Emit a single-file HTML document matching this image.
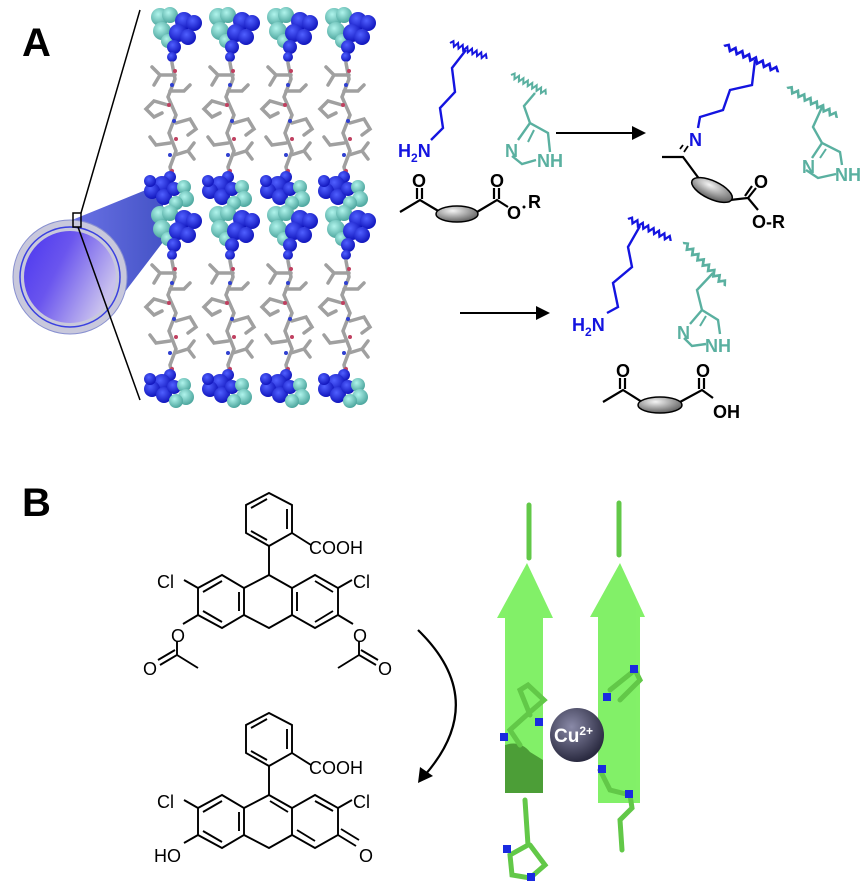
<!DOCTYPE html>
<html><head><meta charset="utf-8"><style>
html,body{margin:0;padding:0;background:#fff;}
svg{display:block;font-family:"Liberation Sans",Arial,sans-serif;}
</style></head><body>
<svg width="866" height="896" viewBox="0 0 866 896" xmlns="http://www.w3.org/2000/svg">
<defs>
<radialGradient id="blob" cx="40%" cy="35%" r="70%"><stop offset="0" stop-color="#5060ff"/><stop offset="1" stop-color="#0c10b8"/></radialGradient>
<radialGradient id="cyan" cx="40%" cy="35%" r="70%"><stop offset="0" stop-color="#b0f4ec"/><stop offset="1" stop-color="#45a098"/></radialGradient>
<linearGradient id="cyl" x1="0" y1="0" x2="1" y2="0.5"><stop offset="0" stop-color="#4a35f0"/><stop offset="0.45" stop-color="#6a55ee"/><stop offset="1" stop-color="#c8c0ee"/></linearGradient>
<linearGradient id="beam" x1="0" y1="0" x2="1" y2="0"><stop offset="0" stop-color="#6a70f0"/><stop offset="1" stop-color="#3040c0"/></linearGradient>
<radialGradient id="ell" cx="40%" cy="30%" r="70%"><stop offset="0" stop-color="#f4f4f4"/><stop offset="1" stop-color="#606060"/></radialGradient>
<radialGradient id="cu" cx="40%" cy="35%" r="65%"><stop offset="0" stop-color="#8a8aa8"/><stop offset="1" stop-color="#2a2a40"/></radialGradient>
<g id="col">
  <g fill="url(#cyan)"><circle cx="-12" cy="12" r="9"/><circle cx="-2" cy="10" r="8"/><circle cx="-10" cy="26" r="9"/><circle cx="-4" cy="36" r="7"/></g>
  <g fill="url(#blob)"><circle cx="12" cy="16" r="9"/><circle cx="22" cy="18" r="8"/><circle cx="6" cy="28" r="9"/><circle cx="16" cy="32" r="8"/><circle cx="2" cy="42" r="7"/><circle cx="0" cy="52" r="5"/></g>
  <g stroke="#a0a0a0" stroke-width="3.5" fill="none" stroke-linecap="round">
    <path d="M0,58 L3,74 L-4,92 L4,110 L-3,128 L4,146 L-2,162 L0,170"/>
    <path d="M3,70 L-12,70 L-20,62 M-12,70 L-18,80"/>
    <path d="M-2,86 L12,86 L18,80"/>
    <path d="M-4,100 L-18,96 L-26,104 L-18,112 L-10,108"/>
    <path d="M4,118 L18,114 L24,124 L16,130"/>
    <path d="M-2,138 L-16,140 L-22,132"/>
    <path d="M3,150 L16,146 L22,154 M16,146 L22,138"/>
  </g>
  <g fill="#c04060"><circle cx="3" cy="66" r="2"/><circle cx="-3" cy="100" r="2"/><circle cx="4" cy="134" r="2"/><circle cx="0" cy="166" r="2"/></g>
  <g fill="#3040d0"><circle cx="0" cy="80" r="2"/><circle cx="2" cy="116" r="2"/><circle cx="-2" cy="150" r="2"/></g>
  <g fill="url(#blob)"><circle cx="-2" cy="172" r="6"/><circle cx="-10" cy="180" r="9"/><circle cx="-20" cy="186" r="8"/><circle cx="-8" cy="192" r="8"/><circle cx="2" cy="184" r="7"/><circle cx="-22" cy="176" r="6"/></g>
  <g fill="url(#cyan)"><circle cx="12" cy="182" r="7"/><circle cx="14" cy="194" r="8"/><circle cx="4" cy="198" r="7"/></g>
</g>
<g id="wavy"><polyline fill="none" stroke-width="2" points="0,0 2.5,-3 5,2 7.5,-3 10,2 12.5,-3 15,2 17.5,-3 20,2 22.5,-3 25,2 27.5,-3 30,2 32.5,-3 35,2 37.5,-3 40,1"/></g>
</defs>

<!-- Panel A -->
<text x="22" y="56" font-size="40" font-weight="bold">A</text>
<polygon points="35,235 163,183 163,242 105,318" fill="url(#beam)" opacity="0.9"/>
<circle cx="70" cy="277" r="57" fill="#c8c8dc" stroke="#8890d0" stroke-width="1"/>
<circle cx="70" cy="277" r="50" fill="none" stroke="#3a40e0" stroke-width="1.5"/>
<circle cx="70" cy="277" r="46" fill="url(#cyl)"/>
<rect x="73" y="213" width="8" height="14" fill="none" stroke="#000" stroke-width="1.5"/>
<line x1="81" y1="213" x2="140" y2="10" stroke="#000" stroke-width="1.5"/>
<line x1="78" y1="227" x2="140" y2="400" stroke="#000" stroke-width="1.5"/>

<use href="#col" x="172" y="5"/><use href="#col" x="230" y="5"/><use href="#col" x="288" y="5"/><use href="#col" x="346" y="5"/>
<use href="#col" x="172" y="203"/><use href="#col" x="230" y="203"/><use href="#col" x="288" y="203"/><use href="#col" x="346" y="203"/>

<g font-size="18" font-weight="bold">
<!-- reaction 1 reactants -->
<g stroke="#1414e0"><use href="#wavy" transform="translate(450,43) rotate(22)"/></g>
<path d="M466,50 L452,68 L455,92 L440,108 L443,128 L431,140" fill="none" stroke="#1414e0" stroke-width="2.4"/>
<text x="398" y="157" fill="#1414e0">H<tspan font-size="12" dy="5">2</tspan><tspan dy="-5">N</tspan></text>
<g stroke="#5ab0a0"><use href="#wavy" transform="translate(511,75) rotate(28)"/></g>
<g fill="none" stroke="#5ab0a0" stroke-width="2.4">
<path d="M535,93 L524,106 L530,123 L548,133 L550,152"/>
<path d="M530,123 L518,140"/><path d="M534,130 L528,142" stroke-width="2"/>
<path d="M512,156 L522,164 L536,160"/>
</g>
<text x="505" y="157" fill="#5ab0a0">N</text>
<text x="537" y="167" fill="#5ab0a0">NH</text>
<g stroke="#000" stroke-width="2.2" fill="none">
<path d="M400,212 L420,200 L440,212"/><path d="M417,199 L417,188 M422,199 L422,188"/>
<path d="M477,212 L497,200 L508,207"/><path d="M494,199 L494,188 M499,199 L499,188"/>
</g>
<ellipse cx="457" cy="214" rx="21" ry="8" fill="url(#ell)" stroke="#000" stroke-width="1.5"/>
<text x="412" y="187">O</text><text x="490" y="187">O</text>
<text x="507" y="219">O</text><circle cx="524" cy="207" r="1.5"/><text x="528" y="208">R</text>

<!-- arrow 1 -->
<line x1="556" y1="133" x2="633" y2="133" stroke="#000" stroke-width="2"/>
<polygon points="646,133 632,126 632,140" fill="#000"/>

<!-- product 1 -->
<g stroke="#1414e0"><use href="#wavy" transform="translate(724,46) rotate(25) scale(1.5,1)"/></g>
<path d="M755,60 L752,85 L730,90 L723,110 L700,117 L698,128" fill="none" stroke="#1414e0" stroke-width="2.4"/>
<text x="689" y="146" fill="#1414e0">N</text>
<g stroke="#000" stroke-width="2.2" fill="none">
<path d="M662,157 L683,157 L700,180"/><path d="M684,152 L688,146 M680,149 L683,145" stroke-width="1.8"/>
<path d="M730,200 L748,198 L756,188 M745,196 L752,186"/><path d="M748,198 L758,210"/>
</g>
<ellipse cx="712" cy="190" rx="22" ry="9" transform="rotate(25 712 190)" fill="url(#ell)" stroke="#000" stroke-width="1.5"/>
<text x="754" y="188">O</text><text x="752" y="228">O-R</text>
<g stroke="#5ab0a0"><use href="#wavy" transform="translate(787,88) rotate(30) scale(1.45,1)"/></g>
<g fill="none" stroke="#5ab0a0" stroke-width="2.4">
<path d="M823,105 L813,127 L822,143 L840,152 L842,165"/>
<path d="M822,143 L812,158"/><path d="M826,149 L820,158" stroke-width="2"/>
<path d="M806,170 L818,178 L836,174"/>
</g>
<text x="802" y="173" fill="#5ab0a0">N</text>
<text x="835" y="181" fill="#5ab0a0">NH</text>

<!-- arrow 2 -->
<line x1="460" y1="313" x2="537" y2="313" stroke="#000" stroke-width="2"/>
<polygon points="550,313 536,306 536,320" fill="#000"/>

<!-- product 2 -->
<g stroke="#1414e0"><use href="#wavy" transform="translate(628,219) rotate(26) scale(1.2,1)"/></g>
<path d="M640,226 L628,247 L632,267 L613,283 L618,307 L607,313" fill="none" stroke="#1414e0" stroke-width="2.4"/>
<text x="572" y="331" fill="#1414e0">H<tspan font-size="12" dy="5">2</tspan><tspan dy="-5">N</tspan></text>
<g stroke="#5ab0a0"><use href="#wavy" transform="translate(683,243) rotate(45) scale(1.5,1)"/></g>
<g fill="none" stroke="#5ab0a0" stroke-width="2.4">
<path d="M713,273 L697,290 L702,310 L718,320 L720,334"/>
<path d="M702,310 L690,324"/><path d="M706,316 L700,326" stroke-width="2"/>
<path d="M684,338 L692,346 L706,344"/>
</g>
<text x="677" y="339" fill="#5ab0a0">N</text>
<text x="705" y="352" fill="#5ab0a0">NH</text>
<g stroke="#000" stroke-width="2.2" fill="none">
<path d="M603,402 L623,390 L642,402"/><path d="M620,389 L620,378 M625,389 L625,378"/>
<path d="M680,402 L702,390 L713,398"/><path d="M699,389 L699,378 M704,389 L704,378"/>
</g>
<ellipse cx="660" cy="405" rx="22" ry="8" fill="url(#ell)" stroke="#000" stroke-width="1.5"/>
<text x="616" y="377">O</text><text x="696" y="377">O</text>
<text x="713" y="418">OH</text>
</g>

<!-- Panel B -->
<text x="22" y="516" font-size="40" font-weight="bold">B</text>
<g stroke="#000" stroke-width="1.9" fill="none">
<path d="M269,493 L292,505 L292,533 L269,546 L246,533 L246,505 Z"/>
<path d="M287,509 L287,529 M267,499 L251,508 M267,540 L251,531"/>
<path d="M292,533 L311,545 M269,546 L269,575"/>
<path d="M222,575 L244,588 L244,615 L222,628 L198,615 L198,588 Z"/>
<path d="M244,588 L269,575 L292,588 M244,615 L269,628 L292,615"/>
<path d="M315,575 L338,588 L338,615 L315,628 L292,615 L292,588 Z"/>
<path d="M239,592 L239,611 M222,581 L203,592 M222,622 L203,611"/>
<path d="M297,592 L297,611 M315,581 L333,592 M315,622 L333,611"/>
<path d="M198,588 L184,580 M338,588 L352,580"/>
<path d="M198,615 L183,624 M177,641 L177,655 L160,665 M177,655 L198,668 M175,650 L158,660"/>
<path d="M338,615 L353,624 M359,641 L359,655 L376,665 M359,655 L338,668 M361,650 L378,660"/>
</g>
<g font-size="18">
<text x="309" y="554">COOH</text>
<text x="157" y="588">Cl</text><text x="353" y="588">Cl</text>
<text x="171" y="642">O</text><text x="353" y="642">O</text>
<text x="143" y="675">O</text><text x="378" y="675">O</text>
</g>
<g stroke="#000" stroke-width="1.9" fill="none">
<path d="M269,713 L292,725 L292,753 L269,766 L246,753 L246,725 Z"/>
<path d="M287,729 L287,749 M267,719 L251,728 M267,760 L251,751"/>
<path d="M292,753 L311,765 M269,766 L269,795"/>
<path d="M222,795 L244,808 L244,835 L222,848 L198,835 L198,808 Z"/>
<path d="M244,808 L269,795 L292,808 M244,835 L269,848 L292,835"/>
<path d="M315,795 L338,808 L338,835 L315,848 L292,835 L292,808 Z"/>
<path d="M239,812 L239,831 M222,801 L203,812 M222,842 L203,831"/>
<path d="M270,801 L288,812 M315,801 L333,811 M297,830 L315,841"/>
<path d="M198,808 L184,800 M338,808 L352,800 M198,835 L184,843"/>
<path d="M338,835 L356,846 M341,829 L359,840"/>
</g>
<g font-size="18">
<text x="309" y="774">COOH</text>
<text x="157" y="808">Cl</text><text x="353" y="808">Cl</text>
<text x="154" y="862">HO</text><text x="359" y="862">O</text>
</g>
<path d="M418,630 Q490,700 425,775" fill="none" stroke="#000" stroke-width="2.2"/>
<polygon points="418,783 420,767 433,776" fill="#000"/>

<!-- beta sheet -->
<g fill="#7cf060" opacity="0.95">
<polygon points="527,563 553,618 543,618 543,793 505,793 505,618 497,618"/>
<polygon points="620,563 645,617 640,617 640,803 598,803 598,617 590,617"/>
</g>
<path d="M505,745 Q520,740 530,752 L543,760 L543,793 L505,793 Z" fill="#3e8a2a" opacity="0.8"/>
<g stroke="#62c848" stroke-width="5" stroke-linecap="round" fill="none">
<path d="M529,505 L529,558 M619,503 L619,555"/>
<path d="M530,715 L520,690 L528,685 L544,700 L530,712 L510,730 L520,745"/>
<path d="M525,800 L528,845 L510,855 L512,875 L530,878 L545,865 L530,845"/>
<path d="M610,690 L635,670 L640,680 L620,700"/>
<path d="M600,770 L610,790 L630,795 L632,808 L620,820 L622,850"/>
</g>
<g fill="#1a2ae0">
<rect x="500" y="733" width="8" height="8"/><rect x="535" y="718" width="8" height="8"/>
<rect x="630" y="665" width="8" height="8"/><rect x="603" y="693" width="8" height="8"/>
<rect x="598" y="765" width="8" height="8"/><rect x="625" y="790" width="8" height="8"/>
<rect x="503" y="845" width="8" height="8"/><rect x="527" y="873" width="8" height="8"/>
</g>
<circle cx="577" cy="735" r="27" fill="url(#cu)"/>
<text x="554" y="742" font-size="19" font-weight="bold" fill="#fff">Cu<tspan font-size="12" dy="-7">2+</tspan></text>
</svg>
</body></html>
